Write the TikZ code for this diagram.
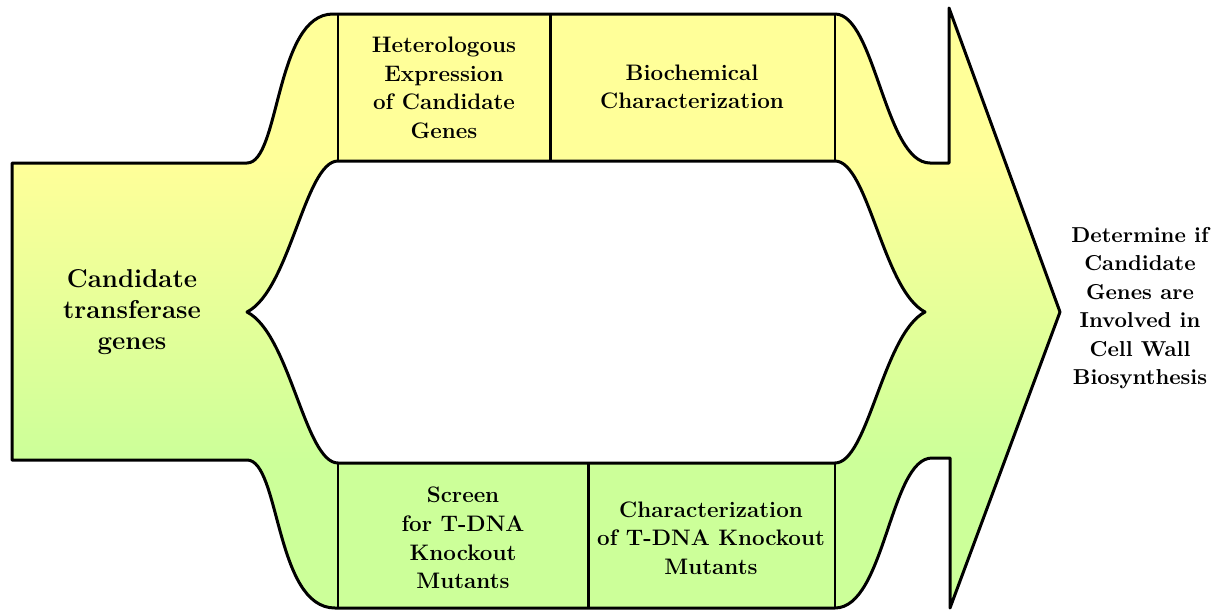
\documentclass[tikz,border=0pt]{standalone}
\definecolor{paleyellow}{HTML}{FFFF99}
\definecolor{palegreen}{HTML}{CCFF99}

% Outer contour of the split flow arrow
\newcommand{\flowoutline}{(12,163) -- (247,163)
  .. controls (280,163) and (275,14) .. (333,14) -- (835,14)
  .. controls (875,14) and (885,163) .. (930,163) -- (949,163) -- (949,8)
  -- (1060,312) -- (950,608) -- (950,458) -- (932,458)
  .. controls (890,458) and (885,608) .. (835,608) -- (335,608)
  .. controls (275,608) and (280,460) .. (247,460) -- (12,460) -- cycle}
% Opening between the two branches
\newcommand{\flowhole}{(338,161) -- (835,161)
  .. controls (868,161) and (883,290) .. (925,312)
  .. controls (883,334) and (868,463) .. (835,463) -- (338,463)
  .. controls (305,463) and (290,334) .. (247,312)
  .. controls (290,290) and (305,161) .. (338,161) -- cycle}

\begin{document}
\begin{tikzpicture}[x=0.5pt,y=-0.5pt,
  outline/.style={line width=1.5pt, line join=round},
  divider/.style={line width=1.5pt},
  edge/.style={line width=1.1pt},
  label/.style={font=\bfseries\fontsize{11.2}{14.3}\selectfont, align=center, text=black},
  biglabel/.style={font=\bfseries\fontsize{12.9}{15.3}\selectfont, align=center, text=black},
  goallabel/.style={font=\bfseries\fontsize{10.8}{14.2}\selectfont, align=center, text=black}]
\useasboundingbox (0,0) rectangle (1220,611);

% colour fill: yellow above, green below, blended in between
\begin{scope}
  \clip \flowoutline;
  \fill[paleyellow] (0,0) rectangle (1220,164);
  \shade[top color=paleyellow, bottom color=palegreen] (0,163) rectangle (1220,460);
  \fill[palegreen] (0,459) rectangle (1220,611);
\end{scope}
\fill[white] \flowhole;
\draw[outline] \flowoutline;
\draw[outline] \flowhole;

% cell borders of the two branches
\draw[edge] (338,14) -- (338,161);
\draw[divider] (550,14) -- (550,161);
\draw[edge] (835,14) -- (835,161);
\draw[edge] (338,463) -- (338,608);
\draw[divider] (588,463) -- (588,608);
\draw[edge] (835,463) -- (835,608);

% labels
\node[biglabel] (cand) at (132,312) {Candidate\\transferase\\genes};
\node[label] (hetero) at (444,88) {Heterologous\\Expression\\of Candidate\\Genes};
\node[label] (biochem) at (692,87) {Biochemical\\Characterization};
\node[label] (screen) at (463,538) {Screen\\for T-DNA\\Knockout\\Mutants};
\node[label] (charko) at (711,538) {Characterization\\of T-DNA Knockout\\Mutants};
\node[goallabel] (goal) at (1140,308) {Determine if\\Candidate\\Genes are\\Involved in\\Cell Wall\\Biosynthesis};
\end{tikzpicture}
\end{document}
